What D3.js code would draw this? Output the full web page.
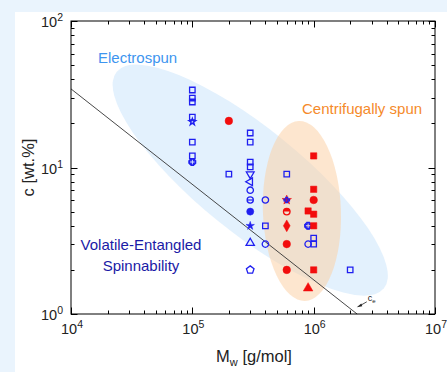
<!DOCTYPE html>
<html>
<head>
<meta charset="utf-8">
<script src="https://cdn.jsdelivr.net/npm/d3@7"></script>
<style>
  html, body { margin: 0; padding: 0; background: #eaf4fd; }
  #chart { position: absolute; left: 0; top: 0; }
</style>
</head>
<body>
<div id="chart"></div>
<script>
// values: [Mw (g/mol), c (wt.%)]
const blueSquares = [[1e5, 33.8], [1e5, 29.8], [1e5, 28], [1e5, 22.1], [1e5, 14.9], [1e5, 12],
  [2e5, 9], [3e5, 17.2], [3e5, 14.9], [3e5, 10.9], [3e5, 10.1], [4e5, 4], [6e5, 9],
  [1e6, 3.3], [1e6, 3], [2e6, 2]];
const blueStar = [[1e5, 20.5]];
const blueCrossCircle = [[1e5, 10.9], [9e5, 4]];
const blueTriDown = [[3e5, 9]];
const blueTriLeft = [[3e5, 8]];
const blueCircles = [[3e5, 7], [4e5, 6], [4e5, 3], [9e5, 3]];
const blueThetaCircle = [[3e5, 6]];
const blueFilledCircle = [[3e5, 5]];
const blueFilledStar = [[3e5, 4]];
const blueTriUp = [[3e5, 3.05]];
const bluePentagon = [[3e5, 2]];
const redCircles = [[2e5, 20.8], [1e6, 6], [6e5, 3], [6e5, 2]];
const redSquares = [[1e6, 12], [1e6, 7.1], [9e5, 5.05], [1e6, 4.8], [1e6, 4], [1e6, 2]];
const redStar = [[6e5, 6]];
const redHalfCircle = [[6e5, 5]];
const redDiamond = [[6e5, 4]];
const redTriangle = [[9e5, 1.5]];

const ceLine = [[1e4, 34.4], [2.28e6, 1]];
const xTicks = [1e4, 1e5, 1e6, 1e7];
const xTickExp = ['4', '5', '6', '7'];
const yTicks = [1, 10, 100];
const yTickExp = ['0', '1', '2'];

const W = 447, H = 372;
const margin = {left: 71, right: 12, top: 21, bottom: 58};
const innerW = W - margin.left - margin.right; // 364
const innerH = H - margin.top - margin.bottom; // 293

const blue = '#1f1ff0', red = '#f20d0d';

const svg = d3.select('#chart').append('svg')
    .attr('width', W)
    .attr('height', H)
    .style('font-family', 'Liberation Sans, Arial, sans-serif');

// white panel over the light blue page
svg.append('rect').attr('x', 15).attr('y', 12).attr('width', W - 15).attr('height', H - 12).attr('fill', '#fff');

const g = svg.append('g').attr('transform', 'translate(' + margin.left + ',' + margin.top + ')');

const scaleX = d3.scaleLog().domain([1e4, 1e7]).range([0, innerW]);
const scaleY = d3.scaleLog().domain([1, 100]).range([innerH, 0]);

// shaded regions
g.append('clipPath').attr('id', 'clip').append('rect').attr('width', innerW).attr('height', innerH);
const regions = g.append('g').attr('clip-path', 'url(#clip)');
regions.append('ellipse')
    .attr('transform', 'translate(' + scaleX(3e5) + ',' + scaleY(8.2) + ') rotate(39)')
    .attr('rx', 172).attr('ry', 52)
    .attr('fill', '#e3f1fd');
regions.append('ellipse')
    .attr('transform', 'translate(' + scaleX(8e5) + ',' + scaleY(5.05) + ') rotate(-2)')
    .attr('rx', 39).attr('ry', 90)
    .attr('fill', '#fcd2a8').attr('fill-opacity', 0.55);

// c_e line
g.append('path')
    .attr('fill', 'none')
    .attr('stroke', '#333')
    .attr('stroke-width', 0.9)
    .attr('d', d3.line().x((d) => scaleX(d[0])).y((d) => scaleY(d[1]))(ceLine));

// frame + ticks
g.append('rect').attr('width', innerW).attr('height', innerH).attr('fill', 'none').attr('stroke', '#000').attr('stroke-width', 1);

const xMinor = [];
for (let e = 4; e < 7; e++) for (let k = 2; k <= 9; k++) xMinor.push(k * Math.pow(10, e));
const yMinor = [];
for (let e = 0; e < 2; e++) for (let k = 2; k <= 9; k++) yMinor.push(k * Math.pow(10, e));

const tickG = g.append('g').attr('stroke', '#000').attr('stroke-width', 1);
function xTick(v, len) {
  const x = Math.round(scaleX(v)) + 0.5;
  tickG.append('line').attr('x1', x).attr('x2', x).attr('y1', innerH).attr('y2', innerH - len);
  tickG.append('line').attr('x1', x).attr('x2', x).attr('y1', 0).attr('y2', len);
}
function yTick(v, len) {
  const y = Math.round(scaleY(v)) + 0.5;
  tickG.append('line').attr('x1', 0).attr('x2', len).attr('y1', y).attr('y2', y);
  tickG.append('line').attr('x1', innerW).attr('x2', innerW - len).attr('y1', y).attr('y2', y);
}
xMinor.forEach((v) => xTick(v, 3.5));
xTicks.forEach((v) => xTick(v, 6.5));
yMinor.forEach((v) => yTick(v, 3.5));
yTicks.forEach((v) => yTick(v, 6.5));

// tick labels
xTicks.forEach((v, i) => {
  const t = g.append('text')
      .attr('x', scaleX(v) + 1)
      .attr('y', innerH + 20)
      .attr('text-anchor', 'middle')
      .attr('font-size', 14.5)
      .attr('fill', '#222');
  t.append('tspan').text('10');
  t.append('tspan').attr('dy', -6).attr('font-size', 10.5).text(xTickExp[i]);
});
yTicks.forEach((v, i) => {
  const t = g.append('text')
      .attr('x', -8)
      .attr('y', scaleY(v) + 6)
      .attr('text-anchor', 'end')
      .attr('font-size', 14.5)
      .attr('fill', '#222');
  t.append('tspan').text('10');
  t.append('tspan').attr('dy', -6).attr('font-size', 10.5).text(yTickExp[i]);
});

// axis titles
const xt = svg.append('text')
    .attr('x', margin.left + innerW / 2 + 1)
    .attr('y', 362)
    .attr('text-anchor', 'middle')
    .attr('font-size', 16.5)
    .attr('fill', '#222');
xt.append('tspan').text('M');
xt.append('tspan').attr('dy', 4).attr('font-size', 11).text('w');
xt.append('tspan').attr('dy', -4).text(' [g/mol]');

svg.append('text')
    .attr('transform', 'translate(34,' + (margin.top + innerH / 2) + ') rotate(-90)')
    .attr('text-anchor', 'middle')
    .attr('font-size', 16.5)
    .attr('fill', '#222')
    .text('c [wt.%]');

// region labels
g.append('text').attr('x', 27).attr('y', 42).attr('font-size', 15).attr('fill', '#3d95ef').text('Electrospun');
g.append('text').attr('x', 231).attr('y', 93).attr('font-size', 15).attr('fill', '#f58a2a').text('Centrifugally spun');
g.append('text').attr('x', 70).attr('y', 229).attr('text-anchor', 'middle').attr('font-size', 15).attr('fill', '#1a1aa6').text('Volatile-Entangled');
g.append('text').attr('x', 70).attr('y', 250).attr('text-anchor', 'middle').attr('font-size', 15).attr('fill', '#1a1aa6').text('Spinnability');

// c_e annotation
const ceX = scaleX(2.9e6), ceY = scaleY(1.25);
g.append('line')
    .attr('x1', ceX - 3).attr('y1', ceY + 2)
    .attr('x2', ceX - 10).attr('y2', ceY + 6)
    .attr('stroke', '#222').attr('stroke-width', 0.8);
g.append('path')
    .attr('d', 'M' + (ceX - 13) + ',' + (ceY + 7.5) + ' l4.5,-3.8 l1,2.7 z')
    .attr('fill', '#222');
const ce = g.append('text').attr('x', ceX - 2).attr('y', ceY + 1).attr('font-size', 9).attr('fill', '#222');
ce.append('tspan').text('c');
ce.append('tspan').attr('dy', 2).attr('font-size', 6).text('e');

// markers
const marks = g.append('g');
function plot(data, type, size, color, filled, rot) {
  marks.selectAll(null)
      .data(data)
      .enter().append('path')
      .attr('transform', (d) => 'translate(' + scaleX(d[0]) + ',' + scaleY(d[1]) + ')' + (rot ? ' rotate(' + rot + ')' : ''))
      .attr('d', d3.symbol().type(type).size(size)())
      .attr('fill', filled ? color : 'none')
      .attr('stroke', color)
      .attr('stroke-width', filled ? 0.5 : 1.3);
}
plot(blueSquares, d3.symbolSquare, 30, blue, false);
plot(blueStar, d3.symbolStar, 14, blue, false);
plot(blueCrossCircle, d3.symbolCircle, 30, blue, false);
plot(blueCrossCircle, d3.symbolCross, 24, blue, false);
plot(blueTriDown, d3.symbolTriangle, 26, blue, false, 180);
plot(blueTriLeft, d3.symbolTriangle, 26, blue, false, -90);
plot(blueCircles, d3.symbolCircle, 32, blue, false);
plot(blueThetaCircle, d3.symbolCircle, 30, blue, false);
marks.selectAll(null).data(blueThetaCircle).enter().append('line')
    .attr('x1', (d) => scaleX(d[0]) - 3).attr('x2', (d) => scaleX(d[0]) + 3)
    .attr('y1', (d) => scaleY(d[1])).attr('y2', (d) => scaleY(d[1]))
    .attr('stroke', blue).attr('stroke-width', 1.2);
plot(blueFilledCircle, d3.symbolCircle, 40, blue, true);
plot(blueFilledStar, d3.symbolStar, 22, blue, true);
plot(blueTriUp, d3.symbolTriangle, 30, blue, false);
marks.selectAll(null).data(bluePentagon).enter().append('path')
    .attr('transform', (d) => 'translate(' + scaleX(d[0]) + ',' + scaleY(d[1]) + ')')
    .attr('d', d3.lineRadial().curve(d3.curveLinearClosed)(d3.range(5).map((i) => [i * 2 * Math.PI / 5, 4])))
    .attr('fill', 'none').attr('stroke', blue).attr('stroke-width', 1.3);

plot(redCircles, d3.symbolCircle, 45, red, true);
plot(redSquares, d3.symbolSquare, 40, red, true);
plot(redStar, d3.symbolStar, 28, red, true);
plot(redStar, d3.symbolCross, 16, blue, false);
plot(redHalfCircle, d3.symbolCircle, 34, red, false);
marks.selectAll(null).data(redHalfCircle).enter().append('path')
    .attr('transform', (d) => 'translate(' + scaleX(d[0]) + ',' + scaleY(d[1]) + ')')
    .attr('d', d3.arc()({innerRadius: 0, outerRadius: 3.3, startAngle: -Math.PI / 2, endAngle: Math.PI / 2}))
    .attr('fill', red);
plot(redDiamond, d3.symbolDiamond, 40, red, true);
plot(redTriangle, d3.symbolTriangle, 40, red, true);
</script>
</body>
</html>
